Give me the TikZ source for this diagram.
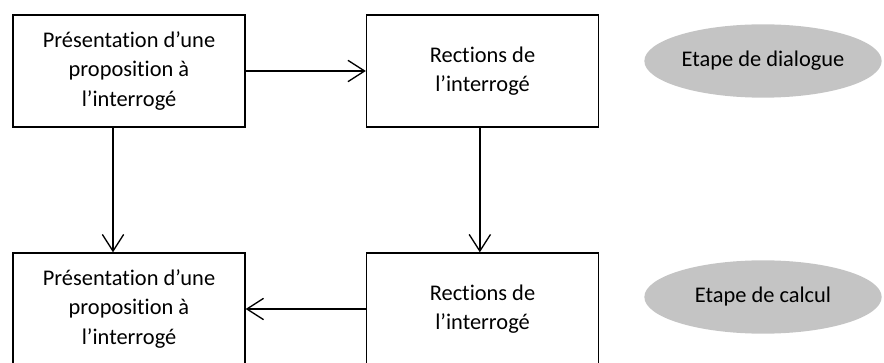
\documentclass[tikz,border=0pt]{standalone}
\usepackage{fontspec}
\setmainfont{Carlito}[Ligatures=NoCommon]
\usepackage{xcolor}
\usepackage{tikz}
\usetikzlibrary{arrows.meta}
\usetikzlibrary{shapes.geometric}
\definecolor{StepGray}{RGB}{196,196,196}
\tikzset{
    stage/.style={draw, line width=1pt, minimum width=174pt, minimum height=84pt,
        align=center, font=\fontsize{16.8}{22}\selectfont, inner sep=0pt},
    phase/.style={ellipse, fill=StepGray, minimum width=178pt, minimum height=55pt,
        font=\fontsize{16.8}{22}\selectfont, inner sep=0pt},
    flow/.style={line width=1pt, -{Straight Barb[length=12.5pt,width=16pt,line width=1pt]}}
}

\begin{document}
\begin{tikzpicture}[x=0.75pt, y=-0.75pt]
    \useasboundingbox (0,0) rectangle (884,363);
    % dialogue row
    \node[stage] (propA) at (129,71) {Présentation d'une\\proposition à\\l'interrogé};
    \node[stage] (reactA) at (482.5,71) {Rections de\\l'interrogé};
    \node[phase] (dialogue) at (763,61) {Etape de dialogue};
    % calcul row
    \node[stage] (propB) at (129,309) {Présentation d'une\\proposition à\\l'interrogé};
    \node[stage] (reactB) at (482.5,309) {Rections de\\l'interrogé};
    \node[phase] (calcul) at (763,297) {Etape de calcul};
    % arrows
    \draw[flow] (propA.east) -- (reactA.west);
    \draw[flow] ([xshift=-12pt]propA.south) -- ([xshift=-12pt]propB.north);
    \draw[flow] ([xshift=-2pt]reactA.south) -- ([xshift=-2pt]reactB.north);
    \draw[flow] (reactB.west) -- (propB.east);
\end{tikzpicture}
\end{document}
